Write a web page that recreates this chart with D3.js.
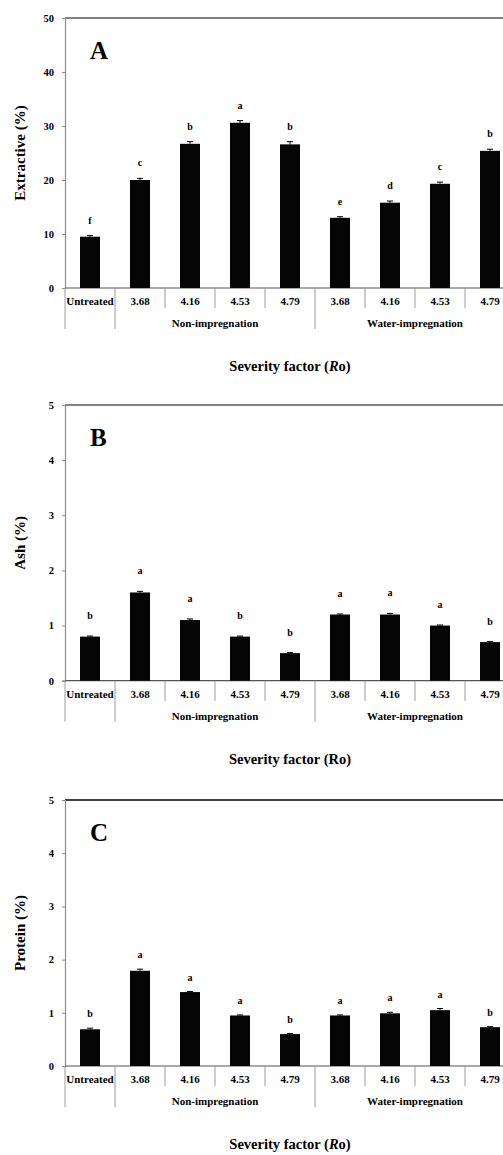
<!DOCTYPE html>
<html>
<head>
<meta charset="utf-8">
<script src="https://cdn.jsdelivr.net/npm/d3@7"></script>
<style>
  html, body { margin: 0; padding: 0; background: #fff; }
  svg { display: block; }
  text { font-family: "Liberation Serif", "Times New Roman", serif; font-weight: bold; fill: #000; }
</style>
</head>
<body>
<svg id="chart" width="503" height="1155"></svg>
<script>
// ---------- data ----------
const categories = ["Untreated", "3.68", "4.16", "4.53", "4.79", "3.68", "4.16", "4.53", "4.79"];
const groupLabels = ["", "Non-impregnation", "Water-impregnation"];
const groupStarts = [0, 1, 5];
const groupEnds = [1, 5, 9];

const extractive = [9.5, 20.0, 26.7, 30.6, 26.6, 13.0, 15.8, 19.3, 25.4];
const extractiveErr = [0.2, 0.3, 0.4, 0.4, 0.5, 0.2, 0.3, 0.3, 0.3];
const extractiveLetters = ["f", "c", "b", "a", "b", "e", "d", "c", "b"];
const extractiveTicks = [0, 10, 20, 30, 40, 50];

const ash = [0.8, 1.6, 1.1, 0.8, 0.5, 1.2, 1.2, 1.0, 0.7];
const ashErr = [0.01, 0.02, 0.02, 0.01, 0.01, 0.01, 0.02, 0.01, 0.01];
const ashLetters = ["b", "a", "a", "b", "b", "a", "a", "a", "b"];
const ashTicks = [0, 1, 2, 3, 4, 5];

const protein = [0.69, 1.79, 1.39, 0.95, 0.60, 0.95, 0.99, 1.05, 0.73];
const proteinErr = [0.02, 0.03, 0.01, 0.01, 0.01, 0.01, 0.02, 0.03, 0.01];
const proteinLetters = ["b", "a", "a", "a", "b", "a", "a", "a", "b"];
const proteinTicks = [0, 1, 2, 3, 4, 5];

// ---------- layout ----------
const svg = d3.select("#chart");
const left = 65, right = 515;

const panels = [
  { tag: "A", values: extractive, errs: extractiveErr, letters: extractiveLetters, ticks: extractiveTicks,
    yTitle: "Extractive (%)", italicR: true, top: 18, bottom: 288, letterOff: 12, frame: "#595959" },
  { tag: "B", values: ash, errs: ashErr, letters: ashLetters, ticks: ashTicks,
    yTitle: "Ash (%)", italicR: false, top: 405, bottom: 680.7, letterOff: 17, frame: "#595959" },
  { tag: "C", values: protein, errs: proteinErr, letters: proteinLetters, ticks: proteinTicks,
    yTitle: "Protein (%)", italicR: true, top: 800, bottom: 1066, letterOff: 11, frame: "#000" }
];

const x = d3.scaleBand()
  .domain(d3.range(categories.length))
  .range([left, right])
  .paddingInner(0.6)
  .paddingOuter(0.3);
const step = x.step();

panels.forEach(p => {
  const g = svg.append("g");
  const y = d3.scaleLinear()
    .domain([0, d3.max(p.ticks)])
    .range([p.bottom, p.top]);

  // top frame line
  g.append("line")
    .attr("x1", left).attr("x2", right)
    .attr("y1", p.top).attr("y2", p.top)
    .attr("stroke", p.frame).attr("stroke-width", 1.5);

  // y axis
  const ya = g.append("g")
    .attr("transform", `translate(${left},0)`)
    .call(d3.axisLeft(y).tickValues(p.ticks).tickSize(3).tickPadding(8).tickFormat(d3.format("d")));
  ya.select(".domain").attr("stroke", "#8c8c8c").attr("stroke-width", 1.2);
  ya.selectAll(".tick line").attr("stroke", "#8c8c8c");
  ya.selectAll(".tick text")
    .style("font-family", '"Liberation Serif", "Times New Roman", serif')
    .style("font-weight", "bold").style("font-size", "10.5px").attr("fill", "#000");

  // baseline
  g.append("line")
    .attr("x1", left).attr("x2", right)
    .attr("y1", y(0)).attr("y2", y(0))
    .attr("stroke", "#555").attr("stroke-width", 1.2);

  // bars
  g.selectAll("rect.bar").data(p.values).join("rect")
    .attr("class", "bar")
    .attr("x", (d, i) => x(i))
    .attr("width", x.bandwidth())
    .attr("y", d => y(d))
    .attr("height", d => y(0) - y(d))
    .attr("fill", "#050505");

  // error bars
  const eb = g.selectAll("g.err").data(p.values).join("g").attr("class", "err");
  eb.append("line")
    .attr("x1", (d, i) => x(i) + x.bandwidth() / 2)
    .attr("x2", (d, i) => x(i) + x.bandwidth() / 2)
    .attr("y1", d => y(d))
    .attr("y2", (d, i) => y(d + p.errs[i]))
    .attr("stroke", "#000").attr("stroke-width", 1);
  eb.append("line")
    .attr("x1", (d, i) => x(i) + x.bandwidth() / 2 - 3)
    .attr("x2", (d, i) => x(i) + x.bandwidth() / 2 + 3)
    .attr("y1", (d, i) => y(d + p.errs[i]))
    .attr("y2", (d, i) => y(d + p.errs[i]))
    .attr("stroke", "#000").attr("stroke-width", 1);

  // significance letters
  g.selectAll("text.sig").data(p.values).join("text")
    .attr("class", "sig")
    .attr("x", (d, i) => x(i) + x.bandwidth() / 2)
    .attr("y", (d, i) => y(d + p.errs[i]) - p.letterOff)
    .attr("text-anchor", "middle")
    .style("font-size", "10px")
    .text((d, i) => p.letters[i]);

  // category tick labels
  const base = y(0);
  g.selectAll("text.cat").data(categories).join("text")
    .attr("class", "cat")
    .attr("x", (d, i) => x(i) + x.bandwidth() / 2)
    .attr("y", base + 17)
    .attr("text-anchor", "middle")
    .style("font-size", "11px")
    .text(d => d);

  // separators
  const boundaries = d3.range(categories.length + 1);
  g.selectAll("line.sep").data(boundaries).join("line")
    .attr("class", "sep")
    .attr("x1", i => left + i * step)
    .attr("x2", i => left + i * step)
    .attr("y1", base)
    .attr("y2", i => (groupStarts.includes(i) || i === categories.length) ? base + 41 : base + 20)
    .attr("stroke", "#9a9a9a").attr("stroke-width", 1);

  // group labels
  g.selectAll("text.grp").data(groupLabels).join("text")
    .attr("class", "grp")
    .attr("x", (d, i) => left + (groupStarts[i] + groupEnds[i]) / 2 * step)
    .attr("y", base + 39)
    .attr("text-anchor", "middle")
    .style("font-size", "11px")
    .text(d => d);

  // x title
  const xt = g.append("text")
    .attr("x", (left + right) / 2)
    .attr("y", base + 83)
    .attr("text-anchor", "middle")
    .style("font-size", "14.5px");
  xt.append("tspan").text("Severity factor (");
  xt.append("tspan").style("font-style", p.italicR ? "italic" : "normal").text("R");
  xt.append("tspan").text("o)");

  // y title
  g.append("text")
    .attr("transform", `translate(25,${(p.top + p.bottom) / 2}) rotate(-90)`)
    .attr("text-anchor", "middle")
    .style("font-size", "15px")
    .text(p.yTitle);

  // panel tag
  g.append("text")
    .attr("x", 90)
    .attr("y", p.top + 41)
    .style("font-size", "25px")
    .text(p.tag);
});
</script>
</body>
</html>
